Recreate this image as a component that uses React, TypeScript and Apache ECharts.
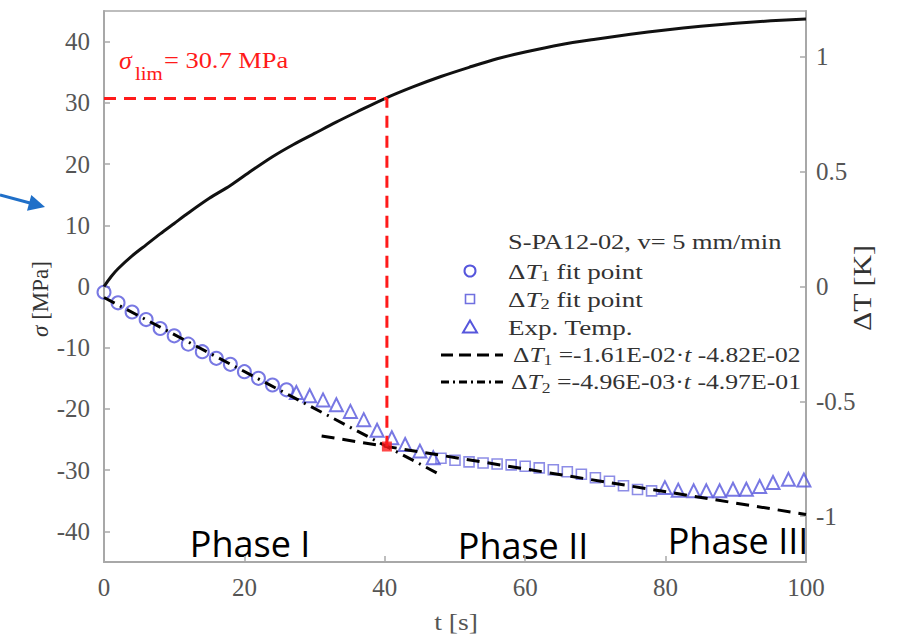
import React, { useEffect, useRef } from "react";
import * as echarts from "echarts";

// ---- data ----
const tStress = [0, 1, 2, 4, 6, 8, 10, 12, 15, 18, 21, 24, 27, 30, 33, 36, 40, 44, 48, 52, 56, 60, 65, 70, 75, 80, 85, 90, 95, 100];
const sigma = [0, 1.6, 2.9, 5.0, 6.8, 8.6, 10.3, 12.0, 14.4, 16.5, 18.9, 21.2, 23.2, 25.0, 26.8, 28.5, 30.7, 32.6, 34.3, 35.8, 37.2, 38.3, 39.5, 40.4, 41.2, 41.9, 42.5, 43.0, 43.4, 43.7];

const tFit1 = [0, 2, 4, 6, 8, 10, 12, 14, 16, 18, 20, 22, 24, 26];
const dTFit1 = [-0.025, -0.071, -0.111, -0.144, -0.183, -0.215, -0.251, -0.284, -0.313, -0.339, -0.371, -0.4, -0.429, -0.45];

const tFit2 = [48, 50, 52, 54, 56, 58, 60, 62, 64, 66, 68, 70, 72, 74, 76, 78];
const dTFit2 = [-0.748, -0.757, -0.764, -0.769, -0.773, -0.777, -0.783, -0.79, -0.798, -0.807, -0.818, -0.833, -0.848, -0.868, -0.884, -0.89];

const tExp = [27.4, 29.3, 31.2, 33.1, 35.1, 37.0, 38.9, 41.0, 42.9, 45.0, 46.9, 79.9, 81.8, 84.0, 85.8, 87.7, 89.6, 91.5, 93.4, 95.3, 97.5, 99.7];
const dTExp = [-0.462, -0.476, -0.494, -0.515, -0.544, -0.58, -0.626, -0.659, -0.688, -0.717, -0.746, -0.876, -0.887, -0.89, -0.89, -0.89, -0.883, -0.883, -0.871, -0.854, -0.84, -0.843];

// fitted lines: endpoints
const line1T = [0, 47.6];
const line1V = [-0.048, -0.815];
const line2T = [31.0, 100];
const line2V = [-0.651, -0.993];

// sigma_lim marker
const limT = 40.3;
const limSigma = 30.7;
const limDT = -0.697;

const leftTicks = [-40, -30, -20, -10, 0, 10, 20, 30, 40];
const rightTicks = [-1, -0.5, 0, 0.5, 1];

const BLUE = "#5656dc";
const AXIS = "#a8a8a8";
const SERIF = "Liberation Serif";
const SANS = "Open Sans";
const RED = "#ff1a1a";

const zip = (a: number[], b: number[]) => a.map((v, i) => [v, b[i]]);

export default function App() {
  const ref = useRef<HTMLDivElement>(null);
  useEffect(() => {
    document.body.style.margin = "0";
    const chart = echarts.init(ref.current!, undefined, { renderer: "svg" });
    const LF = 22;
    const rich = {
      n: { fontFamily: SERIF, fontSize: LF, fill: "#333", lineHeight: 26, verticalAlign: "middle" },
      i: { fontFamily: SERIF, fontSize: LF, fill: "#333", fontStyle: "italic", lineHeight: 26, verticalAlign: "middle" },
      s: { fontFamily: SERIF, fontSize: 15, fill: "#333", lineHeight: 16, verticalAlign: "bottom" },
    };
    const legX = 508;
    const symX = 470;
    const rows = [241, 271, 299, 327, 355, 382];
    const legendText = (x: number, y: number, text: string, sx: number) => ({
      type: "text", x, y, scaleX: sx,
      style: { text, verticalAlign: "middle", fontFamily: SERIF, fontSize: LF, fill: "#333", rich },
    });
    chart.setOption({
      animation: false,
      grid: { left: 104, right: 91, top: 11, bottom: 73, show: true, borderColor: AXIS, borderWidth: 1.5 },
      xAxis: {
        type: "value", min: 0, max: 100, interval: 20,
        axisLine: { onZero: false, lineStyle: { color: AXIS, width: 2 } },
        axisTick: { inside: true, length: 6, lineStyle: { color: AXIS, width: 1.5 } },
        axisLabel: { color: "#555", fontSize: 25, fontFamily: "Liberation Serif", margin: 13 },
        splitLine: { show: false },
      },
      yAxis: [
        {
          type: "value", min: -45, max: 45, position: "left",
          axisLine: { show: true, onZero: false, lineStyle: { color: AXIS, width: 2 } },
          axisTick: { show: true, inside: true, length: 6, customValues: leftTicks, lineStyle: { color: AXIS, width: 1.5 } },
          axisLabel: { color: "#555", fontSize: 25, fontFamily: "Liberation Serif", margin: 14, customValues: leftTicks },
          splitLine: { show: false },
        },
        {
          type: "value", min: -1.2, max: 1.2, position: "right",
          axisLine: { show: true, onZero: false, lineStyle: { color: AXIS, width: 2 } },
          axisTick: { show: true, inside: true, length: 6, customValues: rightTicks, lineStyle: { color: AXIS, width: 1.5 } },
          axisLabel: { color: "#555", fontSize: 25, fontFamily: "Liberation Serif", margin: 10, customValues: rightTicks },
          splitLine: { show: false },
        },
      ],
      series: [
        {
          name: "σ", type: "line", yAxisIndex: 0, data: zip(tStress, sigma), smooth: 0.3,
          showSymbol: false, lineStyle: { color: "#111", width: 3 }, z: 3,
        },
        {
          name: "ΔT1 fit point", type: "scatter", yAxisIndex: 1, data: zip(tFit1, dTFit1),
          symbol: "circle", symbolSize: 13,
          itemStyle: { color: "rgba(255,255,255,0)", borderColor: BLUE, borderWidth: 2 }, z: 2,
        },
        {
          name: "ΔT2 fit point", type: "scatter", yAxisIndex: 1, data: zip(tFit2, dTFit2),
          symbol: "rect", symbolSize: 10,
          itemStyle: { color: "rgba(255,255,255,0)", borderColor: "#7070e0", borderWidth: 1.6 }, z: 2,
        },
        {
          name: "Exp. Temp.", type: "scatter", yAxisIndex: 1, data: zip(tExp, dTExp),
          symbol: "triangle", symbolSize: 13,
          itemStyle: { color: "rgba(255,255,255,0)", borderColor: BLUE, borderWidth: 2 }, z: 2,
        },
        {
          name: "ΔT1 fit", type: "line", yAxisIndex: 1, data: zip(line1T, line1V), showSymbol: false,
          lineStyle: { color: "#000", width: 3, type: [12, 6, 2, 6] }, z: 4,
        },
        {
          name: "ΔT2 fit", type: "line", yAxisIndex: 1, data: zip(line2T, line2V), showSymbol: false,
          lineStyle: { color: "#000", width: 3, type: [13, 8] }, z: 4,
        },
        {
          name: "σ lim", type: "line", yAxisIndex: 0,
          data: [[0, limSigma], [limT, limSigma], [limT, limDT * 37.5]], showSymbol: false,
          lineStyle: { color: RED, width: 3, type: [12, 8] }, z: 5,
        },
        {
          name: "intersection", type: "scatter", yAxisIndex: 1, data: [[limT, limDT]],
          symbol: "rect", symbolSize: 10, itemStyle: { color: RED }, z: 6,
        },
      ],
      graphic: [
        // axis titles
        { type: "text", x: 40, y: 299, rotation: Math.PI / 2,
          style: { text: "{i|σ}{n| [MPa]}", align: "center", verticalAlign: "middle",
            rich: { i: { fontFamily: SERIF, fontSize: 23, fontStyle: "italic", fill: "#333" }, n: { fontFamily: SERIF, fontSize: 23, fill: "#333" } } } },
        { type: "text", x: 862, y: 288, rotation: Math.PI / 2, scaleX: 1.15,
          style: { text: "ΔT [K]", align: "center", verticalAlign: "middle", fontFamily: SERIF, fontSize: 26, fill: "#333" } },
        { type: "text", x: 456, y: 622, scaleX: 1.15,
          style: { text: "t [s]", align: "center", verticalAlign: "middle", fontFamily: SERIF, fontSize: 24, fill: "#555" } },
        // sigma lim annotation
        { type: "text", x: 119, y: 60, style: { text: "σ", verticalAlign: "middle", fontFamily: SERIF, fontStyle: "italic", fontSize: 26, fill: RED } },
        { type: "text", x: 135, y: 73, scaleX: 1.1, style: { text: "lim", verticalAlign: "middle", fontFamily: SERIF, fontSize: 19, fill: RED } },
        { type: "text", x: 164, y: 60, scaleX: 1.1, style: { text: "= 30.7 MPa", verticalAlign: "middle", fontFamily: SERIF, fontSize: 24, fill: RED } },
        // legend
        legendText(legX, rows[0], "S-PA12-02, v= 5 mm/min", 1.2),
        { type: "circle", shape: { cx: symX, cy: rows[1], r: 5.5 }, style: { fill: "none", stroke: BLUE, lineWidth: 2 } },
        legendText(legX, rows[1], "{n|Δ}{i|T}{s|1}{n| fit point}", 1.23),
        { type: "rect", shape: { x: symX - 4.5, y: rows[2] - 4.5, width: 9, height: 9 }, style: { fill: "none", stroke: "#7070e0", lineWidth: 1.6 } },
        legendText(legX, rows[2], "{n|Δ}{i|T}{s|2}{n| fit point}", 1.23),
        { type: "polygon", shape: { points: [[symX, rows[3] - 6.5], [symX + 7, rows[3] + 5.5], [symX - 7, rows[3] + 5.5]] }, style: { fill: "none", stroke: BLUE, lineWidth: 2 } },
        legendText(legX, rows[3], "Exp. Temp.", 1.23),
        { type: "line", shape: { x1: 441, y1: rows[4], x2: 503, y2: rows[4] }, style: { stroke: "#000", lineWidth: 3, lineDash: [12, 6] } },
        legendText(513, rows[4], "{n|Δ}{i|T}{s|1}{n| =-1.61E-02·}{i|t}{n| -4.82E-02}", 1.16),
        { type: "line", shape: { x1: 441, y1: rows[5], x2: 503, y2: rows[5] }, style: { stroke: "#000", lineWidth: 3, lineDash: [8, 4, 2, 4] } },
        legendText(511, rows[5], "{n|Δ}{i|T}{s|2}{n| =-4.96E-03·}{i|t}{n| -4.97E-01}", 1.17),
        // phase labels
        { type: "text", x: 250, y: 543, style: { text: "Phase I", align: "center", verticalAlign: "middle", fontFamily: SANS, fontSize: 36, fill: "#000" } },
        { type: "text", x: 523, y: 545, style: { text: "Phase II", align: "center", verticalAlign: "middle", fontFamily: SANS, fontSize: 36, fill: "#000" } },
        { type: "text", x: 738, y: 540, style: { text: "Phase III", align: "center", verticalAlign: "middle", fontFamily: SANS, fontSize: 36, fill: "#000" } },
        // blue arrow
        { type: "line", shape: { x1: 0, y1: 195, x2: 30, y2: 203 }, style: { stroke: "#1f6fc8", lineWidth: 3 } },
        { type: "polygon", shape: { points: [[45, 207], [27, 210.8], [31.3, 195]] }, style: { fill: "#1f6fc8" } },
      ],
    });
    return () => chart.dispose();
  }, []);
  return <div ref={ref} style={{ position: "absolute", left: 0, top: 0, width: 897, height: 635, background: "#fff" }} />;
}
